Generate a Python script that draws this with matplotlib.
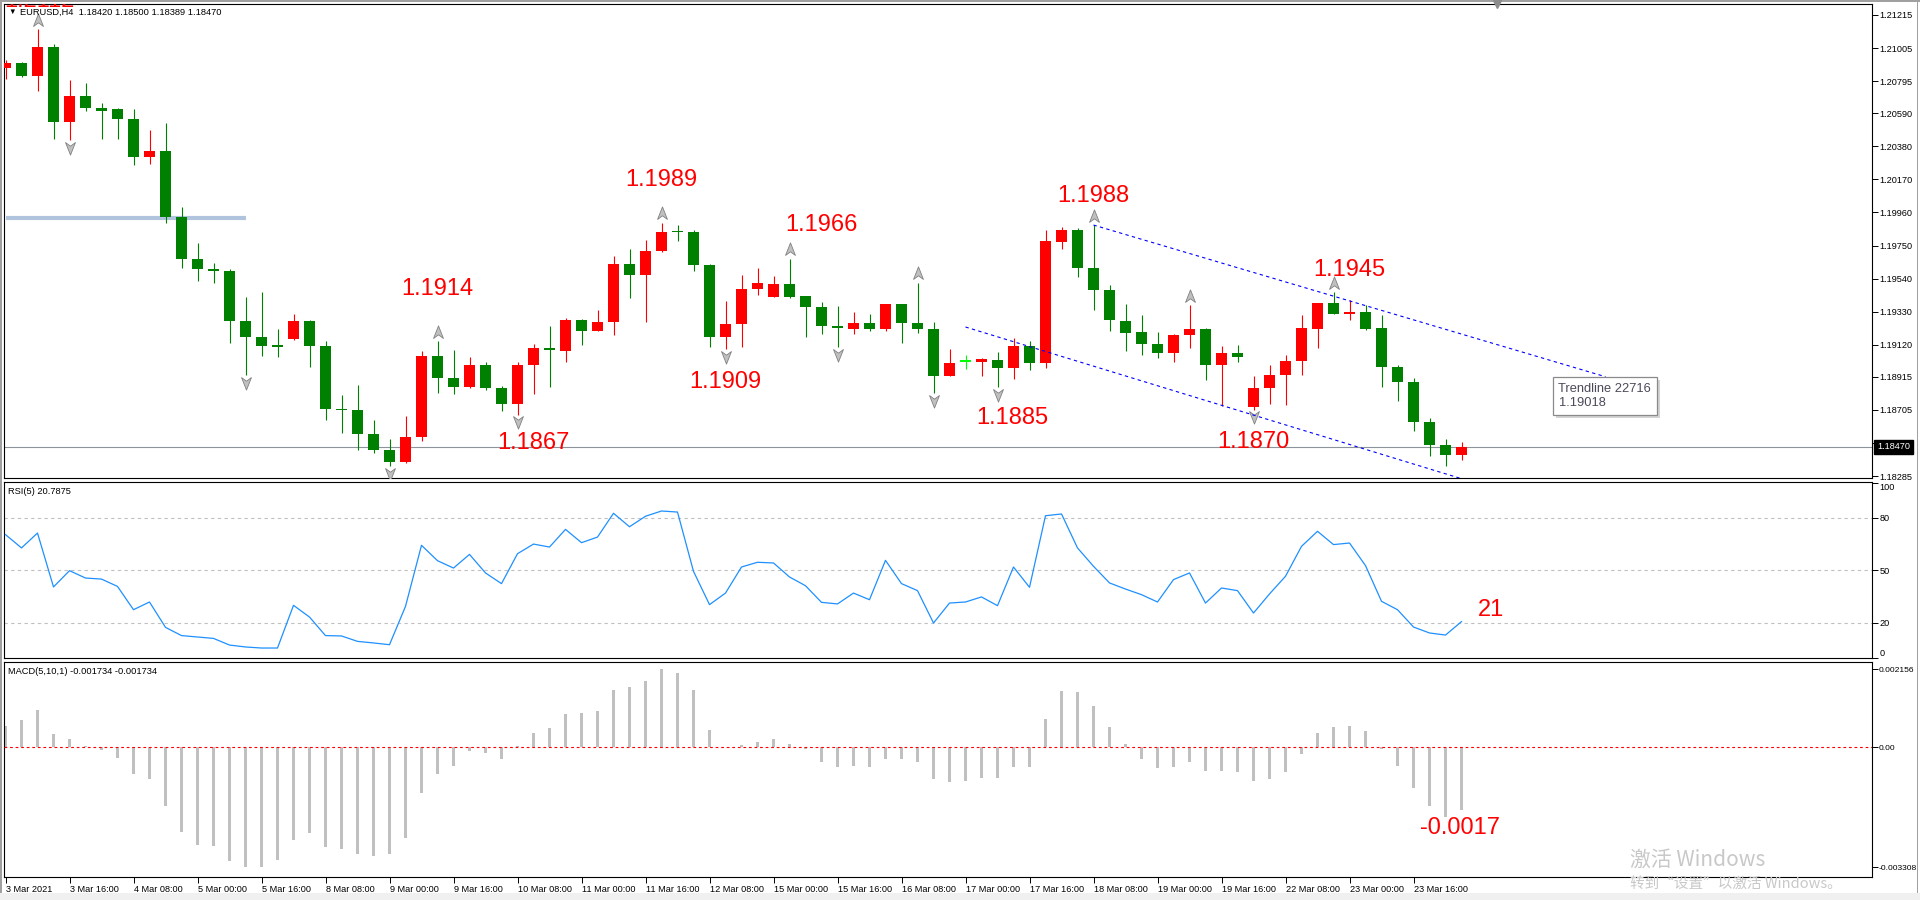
import numpy as np
import matplotlib
matplotlib.use("Agg")
import matplotlib.pyplot as plt
import matplotlib.transforms as mtransforms
from matplotlib.path import Path
from matplotlib.patches import Rectangle

plt.rcParams['font.family'] = ['Liberation Sans', 'DejaVu Sans']

# ___DATA___ #
# EURUSD H4 bars, 3 Mar 2021 00:00 onwards (index = bar number)
opens = [1.20881, 1.20911, 1.20830, 1.21013, 1.20538, 1.20701, 1.20625, 1.20619, 1.20555, 1.20310,
         1.20352, 1.19933, 1.19666, 1.19603, 1.19590, 1.19272, 1.19171, 1.19114, 1.19158, 1.19272,
         1.19114, 1.18713, 1.18707, 1.18555, 1.18453, 1.18373, 1.18531, 1.19050, 1.18910, 1.18849,
         1.18993, 1.18847, 1.18741, 1.18989, 1.19101, 1.19078, 1.19279, 1.19205, 1.19262, 1.19634,
         1.19560, 1.19713, 1.19840, 1.19838, 1.19628, 1.19167, 1.19249, 1.19471, 1.19421, 1.19507,
         1.19427, 1.19361, 1.19239, 1.19217, 1.19260, 1.19217, 1.19376, 1.19260, 1.19222, 1.18919,
         1.19012, 1.19010, 1.19025, 1.18970, 1.19114, 1.19001, 1.19770, 1.19850, 1.19609, 1.19469,
         1.19272, 1.19198, 1.19126, 1.19065, 1.19179, 1.19222, 1.18989, 1.19069, 1.18722, 1.18843,
         1.18925, 1.19014, 1.19222, 1.19387, 1.19313, 1.19330, 1.19228, 1.18980, 1.18885, 1.18631,
         1.18485, 1.18420]
highs = [1.20926, 1.20917, 1.21125, 1.21032, 1.20803, 1.20784, 1.20657, 1.20625, 1.20619, 1.20485,
         1.20530, 1.19996, 1.19768, 1.19641, 1.19603, 1.19425, 1.19457, 1.19222, 1.19317, 1.19279,
         1.19141, 1.18802, 1.18866, 1.18644, 1.18523, 1.18665, 1.19082, 1.19142, 1.19088, 1.19044,
         1.19012, 1.18855, 1.19012, 1.19126, 1.19241, 1.19291, 1.19285, 1.19342, 1.19685, 1.19730,
         1.19787, 1.19895, 1.19882, 1.19846, 1.19632, 1.19399, 1.19564, 1.19609, 1.19558, 1.19666,
         1.19431, 1.19393, 1.19368, 1.19330, 1.19317, 1.19380, 1.19380, 1.19514, 1.19266, 1.19095,
         1.19054, 1.19037, 1.19075, 1.19162, 1.19145, 1.19850, 1.19867, 1.19861, 1.19880, 1.19497,
         1.19380, 1.19310, 1.19202, 1.19190, 1.19370, 1.19226, 1.19114, 1.19120, 1.18923, 1.18989,
         1.19056, 1.19310, 1.19387, 1.19452, 1.19406, 1.19374, 1.19310, 1.18993, 1.18910, 1.18656,
         1.18523, 1.18500]
lows = [1.20811, 1.20818, 1.20735, 1.20424, 1.20418, 1.20608, 1.20424, 1.20430, 1.20259, 1.20265,
        1.19891, 1.19605, 1.19522, 1.19509, 1.19128, 1.18925, 1.19046, 1.19040, 1.19152, 1.18976,
        1.18639, 1.18557, 1.18449, 1.18430, 1.18347, 1.18366, 1.18506, 1.18811, 1.18805, 1.18843,
        1.18830, 1.18697, 1.18675, 1.18805, 1.18849, 1.19008, 1.19116, 1.19205, 1.19179, 1.19414,
        1.19266, 1.19706, 1.19776, 1.19586, 1.19103, 1.19090, 1.19103, 1.19433, 1.19421, 1.19414,
        1.19167, 1.19186, 1.19103, 1.19186, 1.19209, 1.19209, 1.19128, 1.19192, 1.18811, 1.18919,
        1.18968, 1.18919, 1.18849, 1.18900, 1.18957, 1.18970, 1.19727, 1.19550, 1.19338, 1.19205,
        1.19078, 1.19052, 1.19033, 1.19008, 1.19097, 1.18893, 1.18728, 1.19008, 1.18705, 1.18741,
        1.18735, 1.18925, 1.19097, 1.19313, 1.19274, 1.19215, 1.18849, 1.18760, 1.18570, 1.18411,
        1.18347, 1.18389]
closes = [1.20909, 1.20830, 1.21013, 1.20538, 1.20701, 1.20621, 1.20608, 1.20551, 1.20310, 1.20352,
          1.19929, 1.19662, 1.19598, 1.19586, 1.19268, 1.19167, 1.19109, 1.19107, 1.19272, 1.19109,
          1.18709, 1.18703, 1.18550, 1.18449, 1.18373, 1.18536, 1.19050, 1.18906, 1.18849, 1.18993,
          1.18843, 1.18741, 1.18993, 1.19101, 1.19084, 1.19279, 1.19205, 1.19266, 1.19634, 1.19560,
          1.19717, 1.19838, 1.19833, 1.19624, 1.19167, 1.19253, 1.19476, 1.19514, 1.19507, 1.19421,
          1.19357, 1.19236, 1.19224, 1.19260, 1.19217, 1.19376, 1.19255, 1.19217, 1.18919, 1.19006,
          1.19012, 1.19031, 1.18970, 1.19114, 1.19001, 1.19780, 1.19850, 1.19605, 1.19465, 1.19274,
          1.19194, 1.19122, 1.19065, 1.19183, 1.19222, 1.18989, 1.19069, 1.19040, 1.18847, 1.18929,
          1.19018, 1.19226, 1.19387, 1.19313, 1.19330, 1.19222, 1.18976, 1.18881, 1.18627, 1.18481,
          1.18417, 1.18470]

rsi = [70.5, 62.9, 71.4, 40.6, 49.9, 45.7, 45.1, 40.9, 27.6, 32.0,
       17.5, 12.8, 12.0, 11.2, 7.4, 6.3, 5.7, 5.7, 30.1, 23.4,
       12.8, 12.6, 9.5, 8.6, 7.6, 29.5, 64.4, 55.6, 51.4, 59.2,
       48.6, 42.5, 59.6, 65.1, 63.4, 73.5, 65.9, 69.1, 82.7, 75.0,
       81.0, 84.0, 83.4, 49.5, 30.5, 37.1, 52.0, 54.7, 54.3, 46.3,
       41.3, 31.8, 30.9, 37.1, 33.3, 55.8, 42.5, 38.5, 20.0, 31.4,
       32.0, 34.9, 29.9, 52.0, 40.4, 81.3, 82.3, 62.9, 52.4, 42.9,
       39.4, 36.2, 32.0, 44.8, 48.6, 31.4, 40.0, 38.5, 25.7, 36.6,
       46.7, 63.8, 72.4, 64.8, 65.7, 52.8, 32.4, 27.6, 17.7, 14.3,
       13.1, 20.7875]

macd = [0.00059, 0.00074, 0.00103, 0.00036, 0.00023, 0.00003, -0.00008, -0.00029, -0.00074, -0.00088,
        -0.00161, -0.00233, -0.00270, -0.00273, -0.00313, -0.00331, -0.00330, -0.00310, -0.00255, -0.00236,
        -0.00275, -0.00281, -0.00293, -0.00299, -0.00295, -0.00250, -0.00126, -0.00074, -0.00051, -0.00011,
        -0.00016, -0.00031, 0.00003, 0.00040, 0.00053, 0.00091, 0.00095, 0.00100, 0.00157, 0.00166,
        0.00183, 0.00215, 0.00205, 0.00158, 0.00047, 0.00002, 0.00006, 0.00015, 0.00023, 0.00008,
        -0.00006, -0.00040, -0.00053, -0.00051, -0.00055, -0.00031, -0.00031, -0.00040, -0.00087, -0.00095,
        -0.00092, -0.00084, -0.00084, -0.00053, -0.00053, 0.00078, 0.00156, 0.00151, 0.00114, 0.00055,
        0.00008, -0.00031, -0.00057, -0.00053, -0.00041, -0.00066, -0.00066, -0.00067, -0.00094, -0.00088,
        -0.00067, -0.00018, 0.00039, 0.00056, 0.00059, 0.00044, -0.00004, -0.00051, -0.00113, -0.00162,
        -0.00192, -0.001734]

# fractal bars
up_fractals = [2, 27, 41, 49, 57, 68, 74, 83]
down_fractals = [4, 15, 24, 32, 45, 52, 58, 62, 78]

# red price notes (text, bar, price)
note_texts = ["1.2112", "1.1914", "1.1867", "1.1989", "1.1909", "1.1966", "1.1885", "1.1988", "1.1870", "1.1945"]
note_bars = [2.1, 27.0, 33.0, 41.0, 45.0, 51.0, 62.9, 68.0, 78.0, 84.0]
note_prices = [1.21307, 1.19474, 1.18495, 1.20166, 1.18883, 1.19880, 1.18654, 1.20065, 1.18501, 1.19594]

level_price = 1.19927          # old support line
level_bars = [0, 15]

# channel: upper segment and lower ray
upper_bars = [68, 100]
upper_prices = [1.19880, 1.18916]
lower_bars = [60, 100]
lower_prices = [1.19232, 1.17988]
trend_tip = "Trendline 22716\n1.19018"

price_ticks = [1.21215, 1.21005, 1.20795, 1.20590, 1.20380, 1.20170, 1.19960, 1.19750,
               1.19540, 1.19330, 1.19120, 1.18915, 1.18705, 1.18495, 1.18285]
rsi_levels = [80, 50, 20]
rsi_ticks = [100, 80, 50, 20, 0]
macd_ticks = [0.002156, 0.0, -0.003308]
macd_tick_labels = ["0.002156", "0.00", "-0.003308"]

time_labels = ["3 Mar 2021", "3 Mar 16:00", "4 Mar 08:00", "5 Mar 00:00", "5 Mar 16:00", "8 Mar 08:00",
               "9 Mar 00:00", "9 Mar 16:00", "10 Mar 08:00", "11 Mar 00:00", "11 Mar 16:00", "12 Mar 08:00",
               "15 Mar 00:00", "15 Mar 16:00", "16 Mar 08:00", "17 Mar 00:00", "17 Mar 16:00", "18 Mar 08:00",
               "19 Mar 00:00", "19 Mar 16:00", "22 Mar 08:00", "23 Mar 00:00", "23 Mar 16:00"]
time_tick_bars = [4 * k for k in range(len(time_labels))]

# ___LAYOUT___ #
W, H = 1920, 900
BAR_PX = 16.0
PX_PER_PRICE = 15734.0
fig = plt.figure(figsize=(W / 100, H / 100), dpi=100)
fig.patch.set_facecolor("white")


def panel(x0, y0, x1, y1):
    ax = fig.add_axes([x0 / W, 1 - y1 / H, (x1 - x0) / W, (y1 - y0) / H])
    for s in ax.spines.values():
        s.set_linewidth(0.8)
        s.set_color("black")
    ax.set_xlim(-(5.5 - x0) / BAR_PX, (x1 - 5.5) / BAR_PX)
    ax.yaxis.tick_right()
    ax.tick_params(axis="y", direction="out", length=4, width=0.7, pad=1.5, labelsize=6.6)
    return ax


ax = panel(4, 4, 1872, 478)
ax_rsi = panel(4, 482, 1872, 658)
ax_macd = panel(4, 662, 1872, 877)

ax.set_ylim(1.21215 - 463 / PX_PER_PRICE, 1.21215 + 11 / PX_PER_PRICE)
ax_rsi.set_ylim(0, 100.57)
ax_macd.set_ylim(-0.003573, 0.00235)

# ___CANDLES___ #
x = np.arange(len(opens))
o = np.array(opens); h = np.array(highs); l = np.array(lows); c = np.array(closes)
cols = np.where(c > o, "#ff0000", np.where(c < o, "#008000", "#00ff00"))
ax.vlines(x, l, h, colors=cols, lw=0.8, zorder=3)
body_h = np.maximum(np.abs(c - o), 1.2 / PX_PER_PRICE)
ax.bar(x, body_h, bottom=np.minimum(o, c), width=0.69, color=cols, linewidth=0, zorder=4)

# fractal arrows
up_path = Path([(0, 1), (0.75, -0.9), (0, -0.35), (-0.75, -0.9), (0, 1)],
               [Path.MOVETO, Path.LINETO, Path.LINETO, Path.LINETO, Path.CLOSEPOLY])
down_path = Path([(0, -1), (0.75, 0.9), (0, 0.35), (-0.75, 0.9), (0, -1)],
                 [Path.MOVETO, Path.LINETO, Path.LINETO, Path.LINETO, Path.CLOSEPOLY])
ax.plot(up_fractals, h[up_fractals] + 9.5 / PX_PER_PRICE, ls="none", marker=up_path, ms=9.5,
        mfc="#c0c0c0", mec="#808080", mew=0.6, zorder=5)
ax.plot(down_fractals, l[down_fractals] - 7.5 / PX_PER_PRICE, ls="none", marker=down_path, ms=9.5,
        mfc="#c0c0c0", mec="#808080", mew=0.6, zorder=5)

# level line, current price line, channel
ax.hlines(level_price, level_bars[0], level_bars[1], color="#b0c4de", lw=3, zorder=2)
ax.axhline(closes[-1], color="#8c939a", lw=0.8, zorder=2)
ax.plot(upper_bars, upper_prices, color="#0000ff", lw=0.8, ls=(0, (3, 3)), zorder=6)
ax.plot(lower_bars, lower_prices, color="#0000ff", lw=0.8, ls=(0, (3, 3)), zorder=6)

for t, bx, py in zip(note_texts, note_bars, note_prices):
    ax.text(bx, py, t, color="#ff0000", fontsize=17, ha="center", va="center", zorder=7, clip_on=True)

# tooltip with shadow
ax.annotate(trend_tip, xy=(upper_bars[1], upper_prices[1]), xytext=(-44, -9),
            textcoords="offset pixels", ha="left", va="top", fontsize=9.3, color="#d4d4d4",
            linespacing=1.25, annotation_clip=False, zorder=8,
            bbox=dict(boxstyle="square,pad=0.45", fc="#d4d4d4", ec="none"))
ax.annotate(trend_tip, xy=(upper_bars[1], upper_prices[1]), xytext=(-47, -6),
            textcoords="offset pixels", ha="left", va="top", fontsize=9.3, color="#4a4a5a",
            linespacing=1.25, annotation_clip=False, zorder=9,
            bbox=dict(boxstyle="square,pad=0.45", fc="white", ec="#8a8a8a", lw=0.9))

# chart shift marker at the top
ax.plot([93.2], [1.0], transform=mtransforms.blended_transform_factory(ax.transData, ax.transAxes),
        marker="v", ms=6, color="#8c8c8c", clip_on=False, zorder=9)

ax.set_xticks([])
ax.set_yticks(price_ticks)
ax.set_yticklabels([f"{p:.5f}" for p in price_ticks])

# current price box
box_tr = mtransforms.blended_transform_factory(ax.transAxes, ax.transData) + \
    mtransforms.ScaledTranslation(5 / 100, 0, fig.dpi_scale_trans)
ax.text(1.0, closes[-1], f"{closes[-1]:.5f}", transform=box_tr, ha="left", va="center",
        fontsize=6.6, color="white", clip_on=False, zorder=10,
        bbox=dict(boxstyle="square,pad=0.3", fc="black", ec="black"))

# ___RSI___ #
for lv in rsi_levels:
    ax_rsi.axhline(lv, color="#c0c0c0", lw=0.8, ls=(0, (3, 3)), zorder=1)
ax_rsi.plot(x, rsi, color="#1e90ff", lw=0.9, zorder=3)
ax_rsi.set_xticks([])
ax_rsi.set_yticks(rsi_ticks)
ax_rsi.set_yticklabels([str(v) for v in rsi_ticks])
ax_rsi.get_yticklabels()[0].set_va("top")
ax_rsi.get_yticklabels()[-1].set_va("bottom")
ax_rsi.text(92.85, 27.4, "21", color="#ff0000", fontsize=17, ha="center", va="center", zorder=7)

# ___MACD___ #
ax_macd.bar(x, macd, width=0.13, color="#c0c0c0", linewidth=0, zorder=2)
ax_macd.axhline(0, color="#ff0000", lw=0.8, ls=(0, (2.5, 2.5)), zorder=3)
ax_macd.set_yticks(macd_ticks)
ax_macd.set_yticklabels(macd_tick_labels)
ax_macd.tick_params(axis="y", labelsize=6.1, pad=1.0)
ax_macd.text(90.9, -0.00223, "-0.0017", color="#ff0000", fontsize=17, ha="center", va="center", zorder=7)
ax_macd.set_xticks(time_tick_bars)
ax_macd.set_xticklabels(time_labels, ha="left")
ax_macd.tick_params(axis="x", direction="out", length=4, width=0.7, pad=1.5, labelsize=6.6)

# ___PANEL HEADERS___ #
def ftext(px, py, s, **kw):
    fig.text(px / W, 1 - py / H, s, va="center", **kw)


ftext(8, 12.5, "▼", fontsize=5.5, color="black")
ftext(20.5, 12.5, f"EURUSD,H4  {opens[-1]:.5f} {highs[-1]:.5f} {lows[-1]:.5f} {closes[-1]:.5f}",
      fontsize=6.7, color="black")
ftext(8.5, 491, f"RSI(5) {rsi[-1]:.4f}", fontsize=6.7, color="black")
ftext(8.5, 671, f"MACD(5,10,1) {macd[-1]:.6f} {macd[-1]:.6f}", fontsize=6.7, color="black")

# window frame bits (drawn under the panels)
fig.patches.append(Rectangle((0, 0), 1, 7 / H, transform=fig.transFigure, fc="#f0f0f0", ec="none", zorder=-1))
fig.patches.append(Rectangle((0, 1 - 1.5 / H), 1, 1.5 / H, transform=fig.transFigure, fc="#a0a0a0", ec="none", zorder=-1))
fig.patches.append(Rectangle((0, 7 / H), 1.5 / W, 1, transform=fig.transFigure, fc="#a0a0a0", ec="none", zorder=-1))
fig.patches.append(Rectangle((1916.5 / W, 7 / H), 1 / W, 1, transform=fig.transFigure, fc="#a0a0a0", ec="none", zorder=-1))

# activation watermark
ftext(1630, 860, "激活 Windows", fontsize=15, color="#c8c8c8",
      family=["Noto Sans CJK SC", "DejaVu Sans"], zorder=20)
ftext(1630, 884, "转到“设置”以激活 Windows。", fontsize=10.5, color="#c8c8c8",
      family=["Noto Sans CJK SC", "DejaVu Sans"], zorder=20)

fig.savefig("out.png", dpi=100)
